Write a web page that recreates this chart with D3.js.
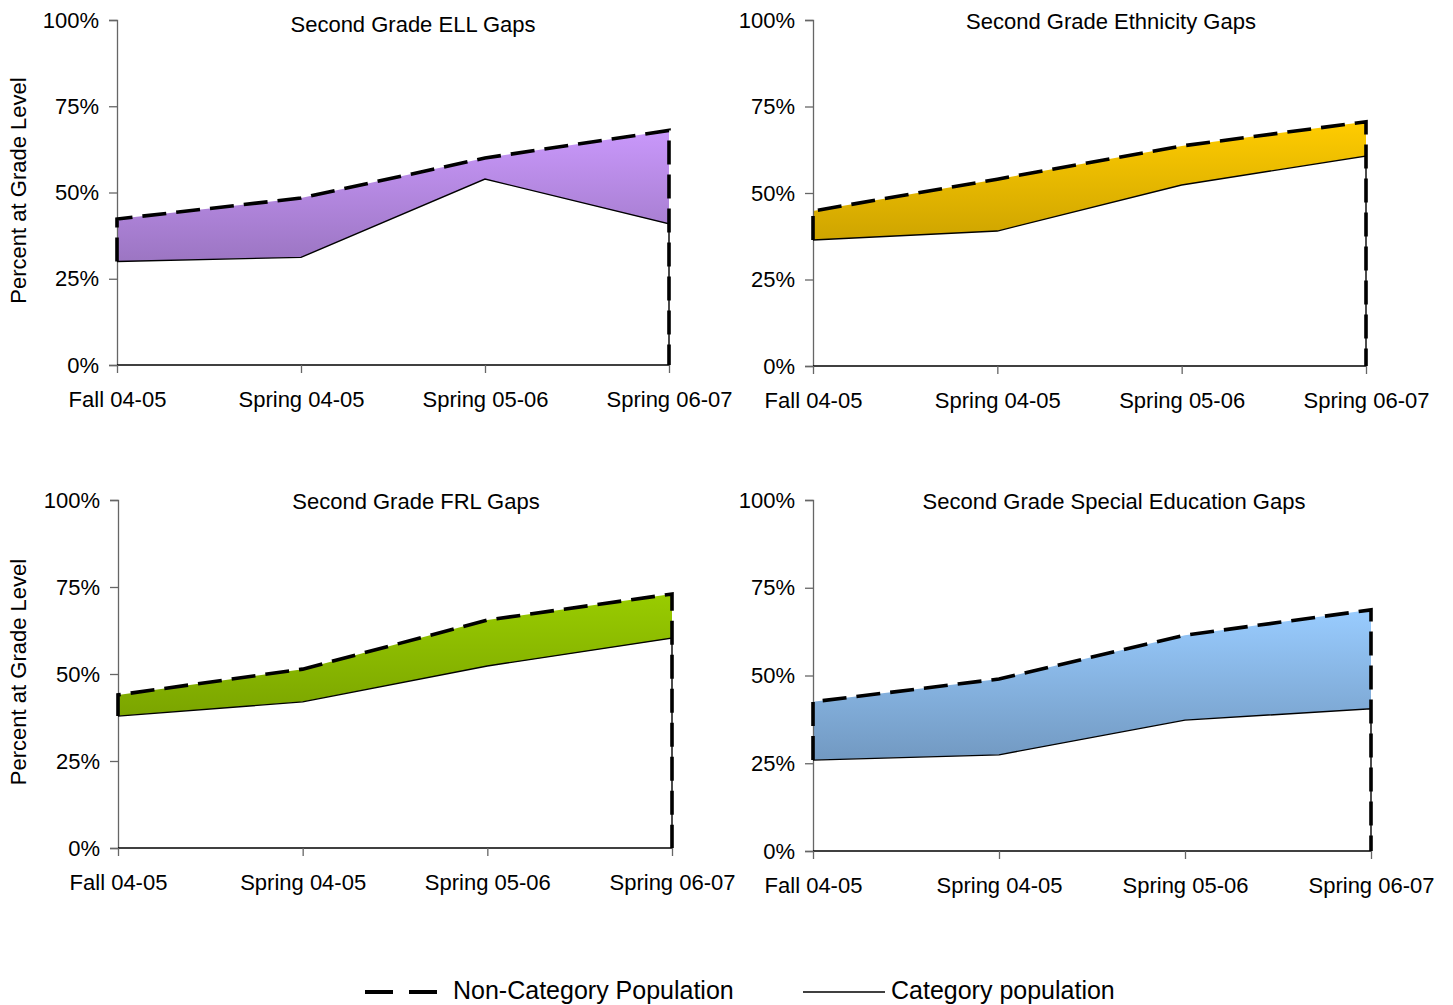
<!DOCTYPE html>
<html>
<head>
<meta charset="utf-8">
<script src="https://cdn.jsdelivr.net/npm/d3@7"></script>
<style>
  html, body { margin: 0; padding: 0; background: #fff; }
  svg { display: block; font-family: "Liberation Sans", Arial, sans-serif; }
</style>
</head>
<body>
<svg id="chart" width="1453" height="1005"></svg>
<script>
// Test periods along the x axis
const periods = ["Fall 04-05", "Spring 04-05", "Spring 05-06", "Spring 06-07"];

// Percent at grade level for each gap comparison
const ellNonCategory = [42.3, 48.4, 60.0, 68.0];
const ellCategory = [30.0, 31.2, 53.9, 40.9];

const ethnicityNonCategory = [44.8, 54.0, 63.6, 70.6];
const ethnicityCategory = [36.4, 39.0, 52.3, 60.7];

const frlNonCategory = [44.0, 51.4, 65.5, 73.0];
const frlCategory = [37.9, 42.0, 52.3, 60.3];

const spedNonCategory = [42.5, 49.0, 61.5, 68.7];
const spedCategory = [25.9, 27.4, 37.3, 40.5];

const yTicks = [0, 25, 50, 75, 100];

const titles = [
  "Second Grade ELL Gaps",
  "Second Grade Ethnicity Gaps",
  "Second Grade FRL Gaps",
  "Second Grade Special Education Gaps"
];

const legendLabels = ["Non-Category Population", "Category population"];

// Panel layout and fill colours
const panels = [
  { title: titles[0], non: ellNonCategory, cat: ellCategory,
    left: 117, right: 669, top: 20, bottom: 365, titleX: 413, titleY: 32,
    yTitle: true, light: "#c998fb", dark: "#785a96" },
  { title: titles[1], non: ethnicityNonCategory, cat: ethnicityCategory,
    left: 813, right: 1366, top: 20, bottom: 366, titleX: 1111, titleY: 29,
    yTitle: false, light: "#ffcc00", dark: "#9a7a00" },
  { title: titles[2], non: frlNonCategory, cat: frlCategory,
    left: 118, right: 672, top: 500, bottom: 848, titleX: 416, titleY: 509,
    yTitle: true, light: "#99cc00", dark: "#5a7a00" },
  { title: titles[3], non: spedNonCategory, cat: spedCategory,
    left: 813, right: 1371, top: 500, bottom: 851, titleX: 1114, titleY: 509,
    yTitle: false, light: "#99ccff", dark: "#5a7a9c" }
];

const FONT = 22;
const svg = d3.select("#chart");
const defs = svg.append("defs");

panels.forEach((p, i) => {
  const x = d3.scalePoint().domain(periods).range([p.left, p.right]);
  const y = d3.scaleLinear().domain([0, 100]).range([p.bottom, p.top]);
  const g = svg.append("g");

  // vertical gradient from the top of the band down to the baseline
  const gradId = "grad" + i;
  const grad = defs.append("linearGradient")
    .attr("id", gradId)
    .attr("gradientUnits", "userSpaceOnUse")
    .attr("x1", 0).attr("x2", 0)
    .attr("y1", y(d3.max(p.non))).attr("y2", y(0));
  grad.append("stop").attr("offset", "0%").attr("stop-color", p.light);
  grad.append("stop").attr("offset", "100%").attr("stop-color", p.dark);

  const rows = periods.map((d, k) => ({ period: d, non: p.non[k], cat: p.cat[k] }));

  // non-category area, filled with the gradient
  g.append("path")
    .datum(rows)
    .attr("fill", `url(#${gradId})`)
    .attr("d", d3.area().x(d => x(d.period)).y0(y(0)).y1(d => y(d.non)));

  // category area, drawn white over it
  g.append("path")
    .datum(rows)
    .attr("fill", "#fff")
    .attr("d", d3.area().x(d => x(d.period)).y0(y(0)).y1(d => y(d.cat)));

  // y axis
  const yAxis = g.append("g")
    .attr("transform", `translate(${p.left},0)`)
    .call(d3.axisLeft(y).tickValues(yTicks).tickSize(8).tickPadding(10).tickFormat(d => d + "%"));
  yAxis.select(".domain").attr("stroke", "#666").attr("stroke-width", 1.3);
  yAxis.selectAll(".tick line").attr("stroke", "#666").attr("stroke-width", 1.3);
  yAxis.selectAll(".tick text")
    .attr("font-size", FONT).attr("fill", "#000")
    .attr("font-family", "'Liberation Sans', Arial, sans-serif");

  // x axis
  const xAxis = g.append("g")
    .attr("transform", `translate(0,${p.bottom})`)
    .call(d3.axisBottom(x).tickSize(8).tickPadding(18).tickSizeOuter(0));
  xAxis.select(".domain").attr("stroke", "#000").attr("stroke-width", 1.3)
    .attr("d", `M${p.left},0H${p.right}`);
  xAxis.selectAll(".tick line").attr("stroke", "#666").attr("stroke-width", 1.3);
  xAxis.selectAll(".tick text")
    .attr("font-size", FONT).attr("fill", "#000")
    .attr("font-family", "'Liberation Sans', Arial, sans-serif");

  // category line, closed down to the baseline at the last period
  const last = rows[rows.length - 1];
  const catLine = d3.line().x(d => x(d.period)).y(d => y(d.cat))(rows)
    + `L${x(last.period)},${y(0)}`;
  g.append("path")
    .attr("d", catLine)
    .attr("fill", "none")
    .attr("stroke", "#000")
    .attr("stroke-width", 1.4);

  // non-category outline: up the left edge, across the top, down the right edge
  const first = rows[0];
  const nonLine = `M${x(first.period)},${y(first.cat)}`
    + d3.line().x(d => x(d.period)).y(d => y(d.non))(rows).replace(/^M/, "L")
    + `L${x(last.period)},${y(0)}`;
  g.append("path")
    .attr("d", nonLine)
    .attr("fill", "none")
    .attr("stroke", "#000")
    .attr("stroke-width", 3.6)
    .attr("stroke-dasharray", "24,10");

  // panel title
  g.append("text")
    .attr("x", p.titleX).attr("y", p.titleY)
    .attr("text-anchor", "middle")
    .attr("font-size", FONT)
    .text(p.title);

  if (p.yTitle) {
    g.append("text")
      .attr("transform", `translate(26,${(p.top + p.bottom) / 2 - 2}) rotate(-90)`)
      .attr("text-anchor", "middle")
      .attr("font-size", FONT)
      .text("Percent at Grade Level");
  }
});

// legend
const legend = svg.append("g").attr("transform", "translate(0,992)");
legend.append("line")
  .attr("x1", 365).attr("x2", 437).attr("y1", 0).attr("y2", 0)
  .attr("stroke", "#000").attr("stroke-width", 4)
  .attr("stroke-dasharray", "28,16");
legend.append("text")
  .attr("x", 453).attr("y", 7)
  .attr("font-size", 25)
  .text(legendLabels[0]);
legend.append("line")
  .attr("x1", 803).attr("x2", 885).attr("y1", 0).attr("y2", 0)
  .attr("stroke", "#000").attr("stroke-width", 1.5);
legend.append("text")
  .attr("x", 891).attr("y", 7)
  .attr("font-size", 25)
  .text(legendLabels[1]);
</script>
</body>
</html>
